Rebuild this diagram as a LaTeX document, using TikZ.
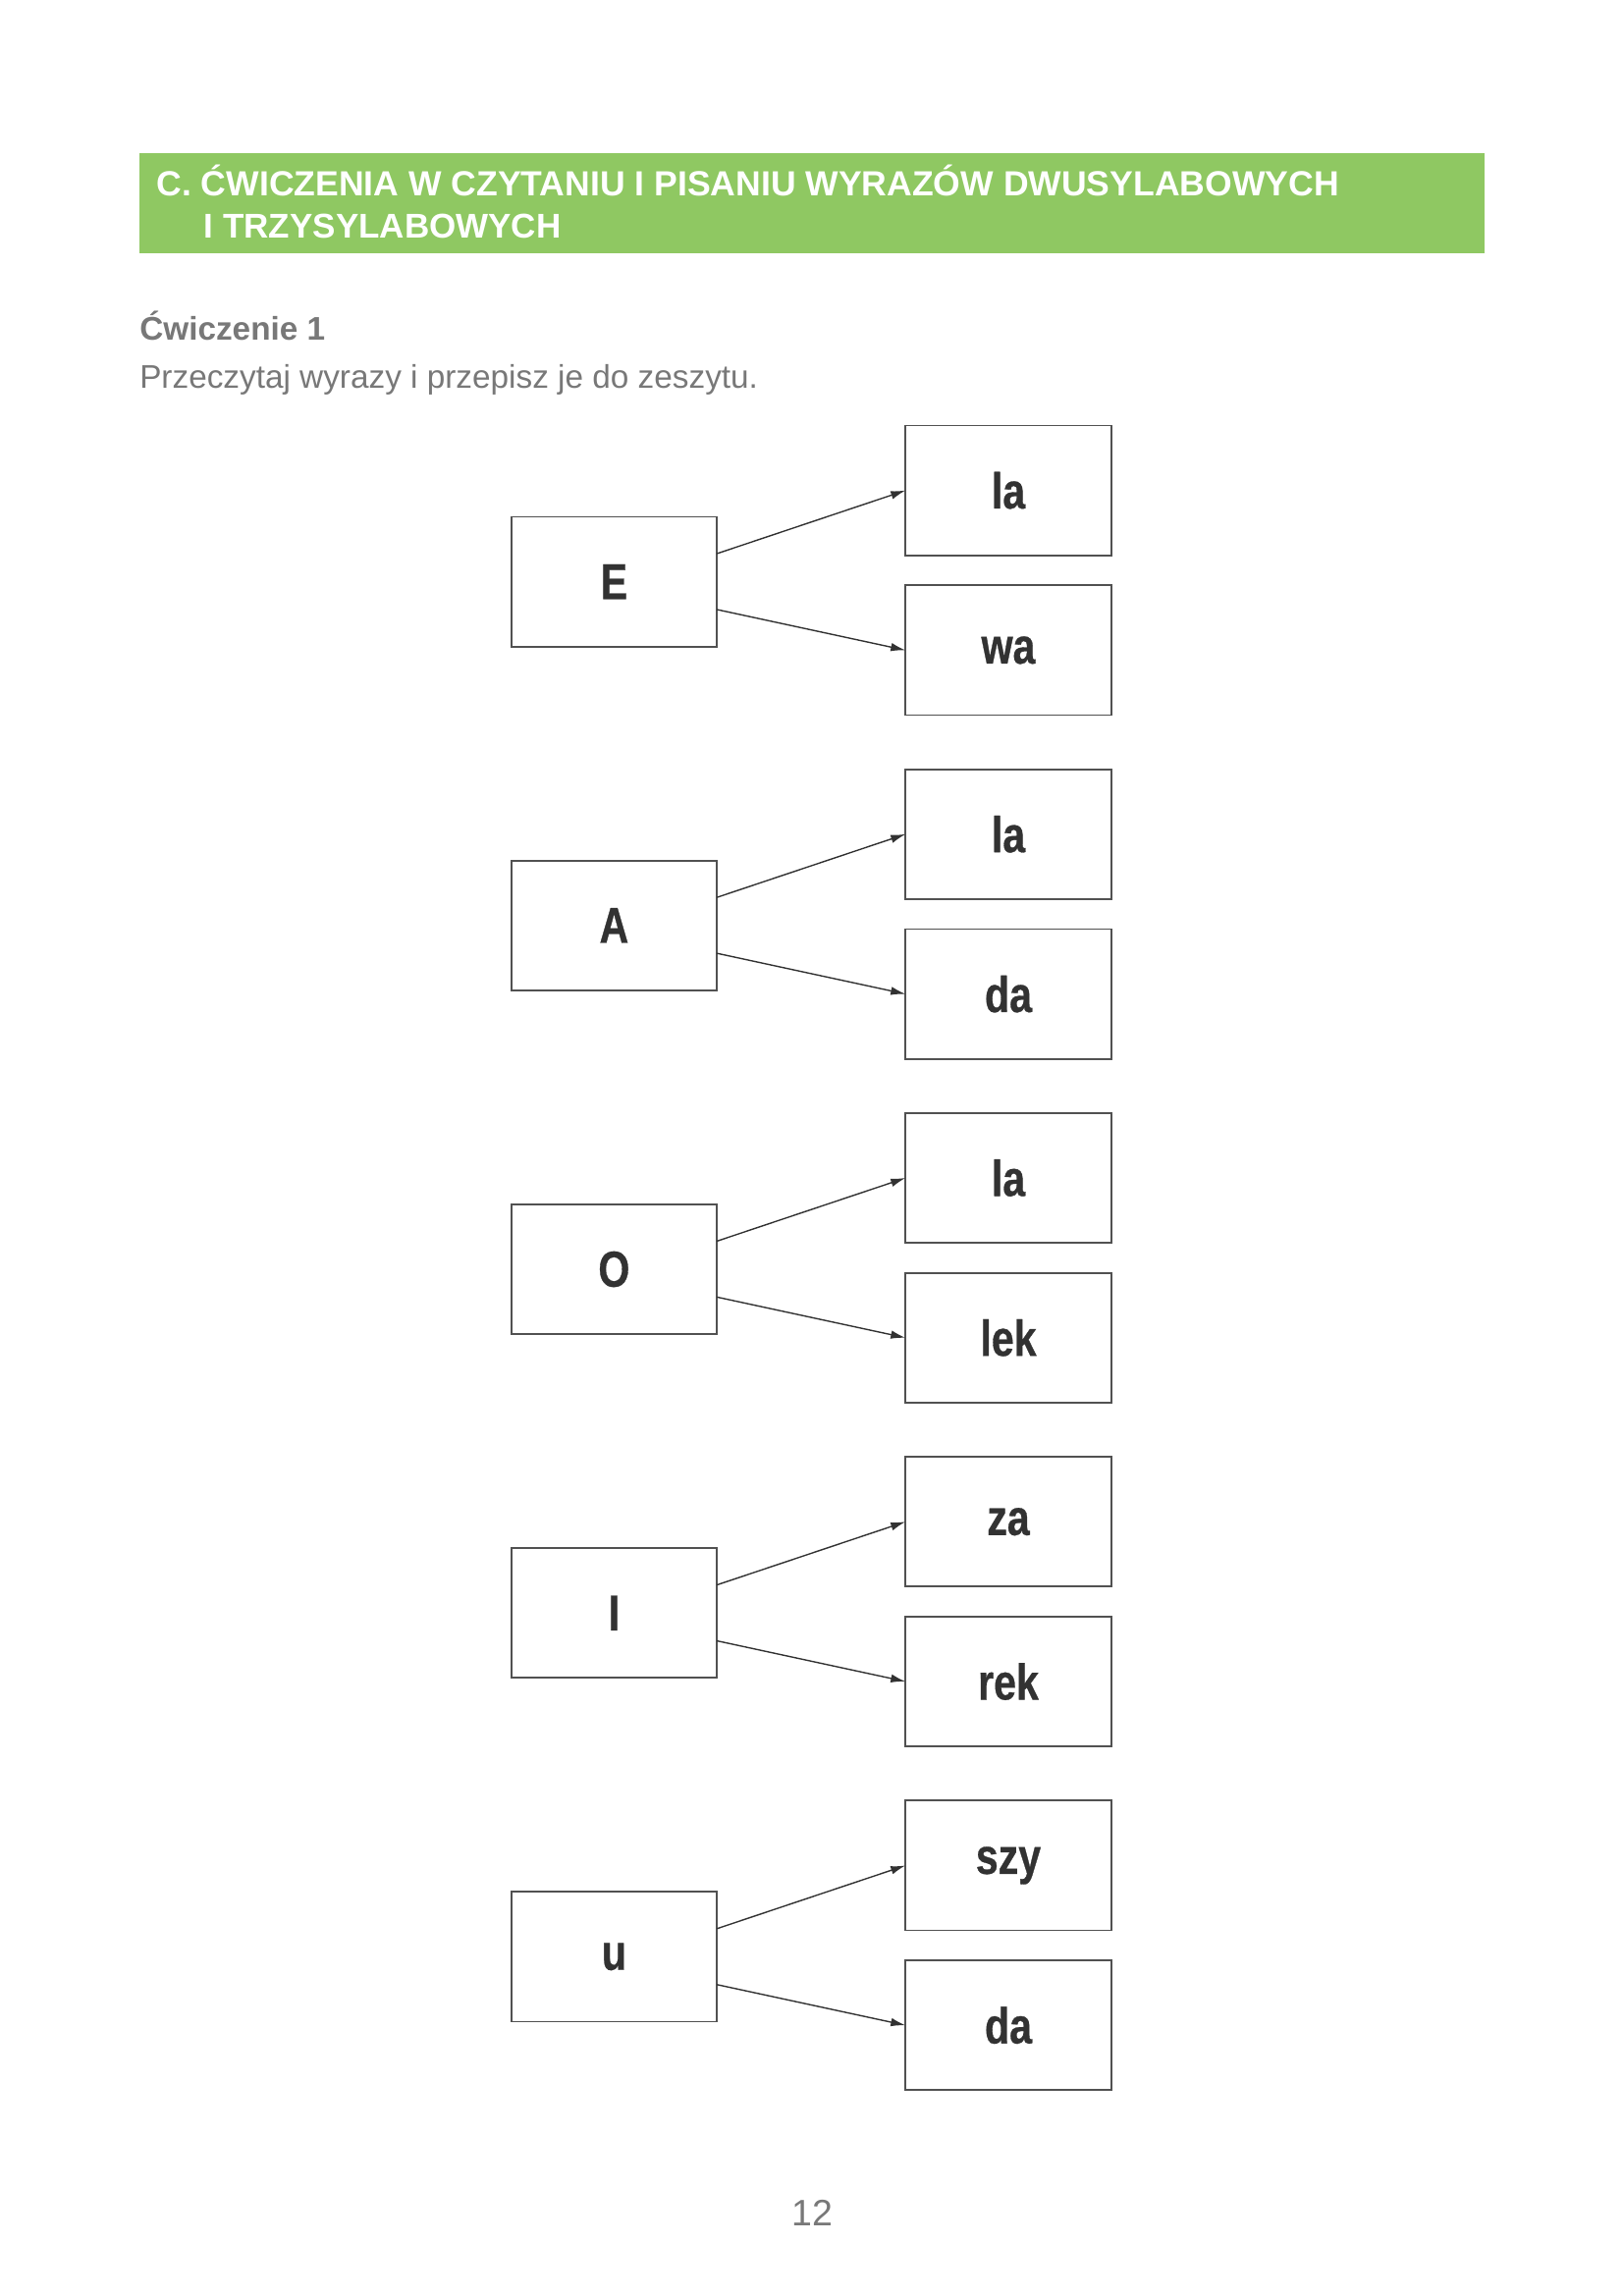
\documentclass[tikz,border=0pt]{standalone}
\usepackage{fontspec}
\setmainfont{Liberation Sans}
\newfontfamily\boxfont{Liberation Sans Bold}[FakeStretch=0.8, FakeBold=0.6]
\usetikzlibrary{arrows.meta}
\definecolor{headgreen}{RGB}{143,200,98}
\definecolor{textgray}{RGB}{120,120,120}
\definecolor{inkgray}{RGB}{50,50,50}
\begin{document}
\begin{tikzpicture}[x=0.36pt, y=-0.36pt,
    syl/.style={draw=inkgray!85, line width=0.65pt, minimum width=75.4pt, minimum height=47.6pt,
        inner sep=0pt, outer sep=0pt, text=inkgray, font=\boxfont\fontsize{18.5}{20}\selectfont},
    arr/.style={-{Latex[length=5.4pt, width=3.1pt]}, line width=0.5pt, draw=inkgray}]
    \useasboundingbox (0,0) rectangle (1653,2339);

    % Header bar
    \fill[headgreen] (141.7,155.7) rectangle (1511.7,257.7);
    \node[anchor=base west, text=white, font=\bfseries\fontsize{12.8}{15}\selectfont, inner sep=0pt]
        (title1) at (159,199) {C. ĆWICZENIA W CZYTANIU I PISANIU WYRAZÓW DWUSYLABOWYCH};
    \node[anchor=base west, text=white, font=\bfseries\fontsize{12.6}{15}\selectfont, inner sep=0pt]
        (title2) at (207.3,242) {I TRZYSYLABOWYCH};

    % Task
    \node[anchor=base west, text=textgray, font=\bfseries\fontsize{12}{15}\selectfont, inner sep=0pt]
        (task) at (141.7,346) {Ćwiczenie 1};
    \node[anchor=base west, text=textgray, font=\fontsize{12}{15}\selectfont, inner sep=0pt]
        (hint) at (141.7,395) {Przeczytaj wyrazy i przepisz je do zeszytu.};

    % Syllable boxes and arrows
    \foreach \first/\up/\down [count=\i from 0] in {E/la/wa, A/la/da, O/la/lek, I/za/rek, u/szy/da} {
        \node[syl] (l\i) at (625.4, {592.6+350.2*\i}) {\first};
        \node[syl] (a\i) at (1027, {499.6+350.2*\i}) {\up};
        \node[syl] (b\i) at (1027, {662.4+350.2*\i}) {\down};
        \draw[arr] ([yshift=10.3pt]l\i.east) -- (a\i.west);
        \draw[arr] ([yshift=-10.2pt]l\i.east) -- (b\i.west);
    }

    % Page number
    \node[anchor=base, text=textgray, font=\fontsize{13.5}{16}\selectfont, inner sep=0pt] (page) at (827,2267) {12};
\end{tikzpicture}
\end{document}
